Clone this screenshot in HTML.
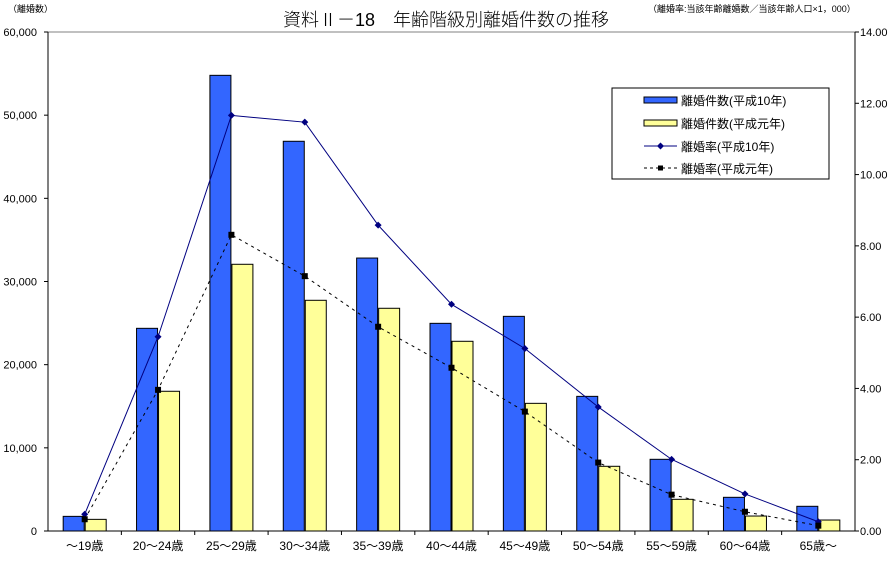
<!DOCTYPE html>
<html><head><meta charset="utf-8"><style>
body{margin:0;background:#fff;}
svg text{font-family:"Liberation Sans","Noto Sans CJK JP",sans-serif;}
</style></head><body>
<svg id="chart" width="893" height="557" xmlns="http://www.w3.org/2000/svg">
<text x="446" y="26" font-size="18" text-anchor="middle" font-weight="300">資料Ⅱ－18　年齢階級別離婚件数の推移</text>
<text x="8" y="12" font-size="9">（離婚数）</text>
<text x="648" y="12" font-size="9">（離婚率:当該年齢離婚数／当該年齢人口×1，000）</text>
<g id="grid"></g><g id="bars"></g><g id="lines"></g><g id="axes"></g>
<g>
<rect x="612" y="88" width="217" height="91" fill="#fff" stroke="#000"/>
<rect x="644" y="97" width="33" height="6" fill="#3366ff" stroke="#000"/>
<text x="681" y="105" font-size="12">離婚件数(平成10年)</text>
<rect x="644" y="120" width="33" height="6" fill="#ffff99" stroke="#000"/>
<text x="681" y="128" font-size="12">離婚件数(平成元年)</text>
<line x1="644" y1="146" x2="677" y2="146" stroke="#000080"/>
<path d="M660.5 142.5 L664 146 L660.5 149.5 L657 146Z" fill="#000080"/>
<text x="681" y="151" font-size="12">離婚率(平成10年)</text>
<line x1="644" y1="168" x2="677" y2="168" stroke="#000" stroke-dasharray="3,3"/>
<rect x="658" y="165.5" width="5" height="5" fill="#000"/>
<text x="681" y="173" font-size="12">離婚率(平成元年)</text>
</g>
</svg>
<script>
const categories=["～19歳","20～24歳","25～29歳","30～34歳","35～39歳","40～44歳","45～49歳","50～54歳","55～59歳","60～64歳","65歳～"];
const countH10=[1760,24370,54790,46860,32820,24970,25810,16190,8620,4050,2970];
const countH1=[1400,16800,32070,27740,26780,22810,15350,7780,3810,1800,1320];
const rateH10=[0.47,5.45,11.66,11.47,8.58,6.36,5.12,3.48,2.01,1.04,0.26];
const rateH1=[0.33,3.96,8.31,7.15,5.73,4.58,3.35,1.92,1.02,0.54,0.15];
const leftTicks=[0,10000,20000,30000,40000,50000,60000];
const rightTicks=[0,2,4,6,8,10,12,14];

const NS="http://www.w3.org/2000/svg";
const L=48,R=855,T=32,B=531;
const bw=(R-L)/categories.length;
const yL=v=>B-(v/60000)*(B-T);
const yR=v=>B-(v/14)*(B-T);
const xC=i=>L+bw*(i+0.5);
function mk(tag,attrs,parent){const e=document.createElementNS(NS,tag);for(const k in attrs)e.setAttribute(k,attrs[k]);document.getElementById(parent).appendChild(e);return e;}

countH10.forEach((v,i)=>{
  const r=mk('rect',{x:xC(i)-21.5,y:yL(v),width:21,height:B-yL(v),fill:'#3366ff',stroke:'#000','stroke-width':1},'bars');
  
  
});
countH1.forEach((v,i)=>{
  const r=mk('rect',{x:xC(i)+0.5,y:yL(v),width:21,height:B-yL(v),fill:'#ffff99',stroke:'#000','stroke-width':1},'bars');
  
  
});
const p10=rateH10.map((v,i)=>[xC(i),yR(v)]);
const p1=rateH1.map((v,i)=>[xC(i),yR(v)]);
const l1=mk('polyline',{points:p1.map(p=>p.join(',')).join(' '),fill:'none',stroke:'#000','stroke-width':1,'stroke-dasharray':'3,4'},'lines');


const l10=mk('polyline',{points:p10.map(p=>p.join(',')).join(' '),fill:'none',stroke:'#000080','stroke-width':1},'lines');


p10.forEach((p,i)=>{const m=mk('path',{d:`M${p[0]} ${p[1]-3.5} L${p[0]+3.5} ${p[1]} L${p[0]} ${p[1]+3.5} L${p[0]-3.5} ${p[1]}Z`,fill:'#000080'},'lines');
  
  });
p1.forEach((p,i)=>{const m=mk('rect',{x:p[0]-3,y:p[1]-3,width:6,height:6,fill:'#000'},'lines');
  
  });

mk('line',{x1:L,y1:T,x2:R,y2:T,stroke:'#808080'},'axes');
mk('line',{x1:L,y1:T,x2:L,y2:B,stroke:'#000'},'axes');
mk('line',{x1:R,y1:T,x2:R,y2:B,stroke:'#000'},'axes');
mk('line',{x1:L,y1:B,x2:R,y2:B,stroke:'#000'},'axes');
leftTicks.forEach(v=>{const y=yL(v);mk('line',{x1:L-4,y1:y,x2:L,y2:y,stroke:'#000'},'axes');
  const t=mk('text',{x:37,y:y+4,'font-size':11,'text-anchor':'end'},'axes');t.textContent=v.toLocaleString('en-US');
  
  });
rightTicks.forEach(v=>{const y=yR(v);mk('line',{x1:R,y1:y,x2:R+4,y2:y,stroke:'#000'},'axes');
  const t=mk('text',{x:860,y:y+4,'font-size':11},'axes');t.textContent=v.toFixed(2);
  
  });
categories.forEach((c,i)=>{const x=L+bw*i;if(i>0)mk('line',{x1:x,y1:B,x2:x,y2:B+4,stroke:'#000'},'axes');
  const t=mk('text',{x:xC(i),y:550,'font-size':12,'text-anchor':'middle'},'axes');t.textContent=c;
  
  });
</script>
</body></html>
